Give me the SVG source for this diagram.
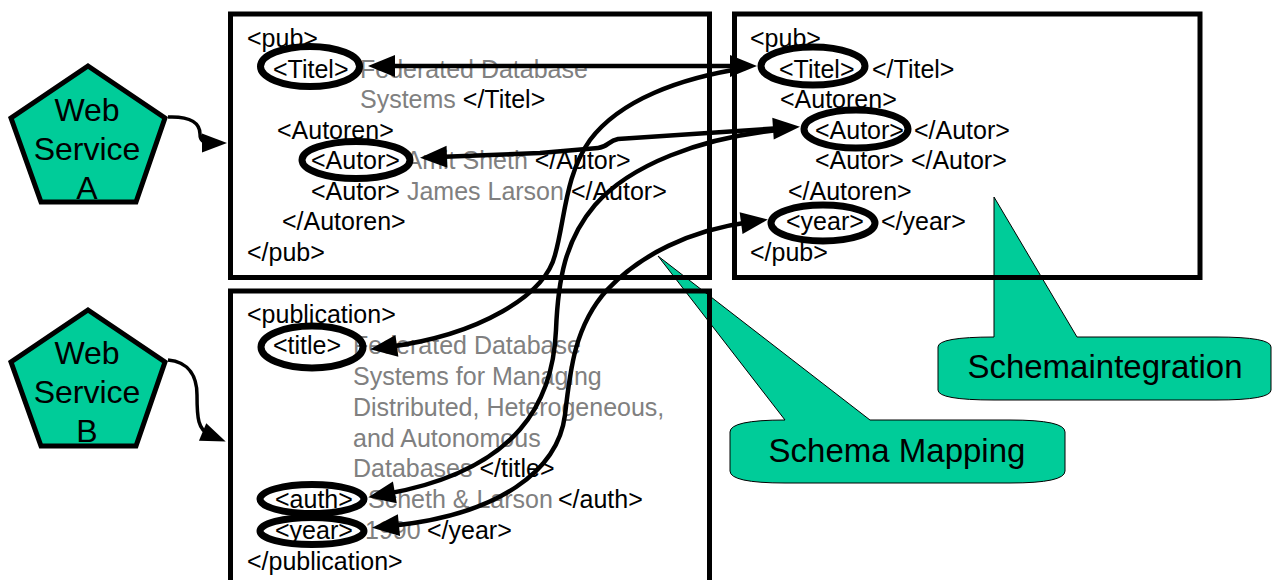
<svg xmlns="http://www.w3.org/2000/svg" width="1273" height="580" viewBox="0 0 1273 580">
<style>
text{font-family:"Liberation Sans",Arial,sans-serif;font-size:25px;fill:#000}
.g{fill:#808080}
.box{fill:none;stroke:#000;stroke-width:5}
.pent{fill:#00CC99;stroke:#000;stroke-width:5;stroke-linejoin:miter}
.pt{font-size:32px;text-anchor:middle}
.ell{fill:none;stroke:#000;stroke-width:7}
.con{fill:none;stroke:#000;stroke-width:4.5}
.thin{fill:none;stroke:#000;stroke-width:3.5}
.call{fill:#00CC99;stroke:#000;stroke-width:1}
.ct{font-size:33px;text-anchor:middle}
</style>
<defs>
<marker id="ah" markerUnits="userSpaceOnUse" markerWidth="28" markerHeight="24" refX="9" refY="11" orient="auto-start-reverse" overflow="visible"><path d="M0,0 L27,11 L0,22 z" fill="#000"/></marker>
<marker id="ah2" markerUnits="userSpaceOnUse" markerWidth="26" markerHeight="22" refX="8" refY="9.5" orient="auto" overflow="visible"><path d="M0,0 L25,9.5 L0,19 z" fill="#000"/></marker>
</defs>

<g id="calloutMapping">
<path class="call" d="M730,432 Q730,420 785,420 L658,256 L870,420 L1010,420 Q1065,420 1065,432 L1065,471 Q1065,483 1010,483 L785,483 Q730,483 730,471 Z"/>
<text class="ct" x="897" y="462">Schema Mapping</text>
</g>

<g id="calloutIntegration">
<path class="call" d="M938,347 Q938,337 994,337 L994,197 L1077,337 L1216,337 Q1271,337 1271,347 L1271,390 Q1271,400 1216,400 L994,400 Q938,400 938,390 Z"/>
<text class="ct" x="1105" y="378">Schemaintegration</text>
</g>

<g id="boxA">
<rect class="box" x="230.5" y="14" width="479" height="263.5"/>
<text x="247" y="47">&lt;pub&gt;</text>
<text x="273" y="78">&lt;Titel&gt;</text>
<text class="g" x="360" y="78">Federated Database</text>
<text x="360" y="108"><tspan class="g">Systems</tspan> &lt;/Titel&gt;</text>
<text x="277" y="139">&lt;Autoren&gt;</text>
<text x="311" y="169">&lt;Autor&gt; <tspan class="g">Amit Sheth</tspan> &lt;/Autor&gt;</text>
<text x="311" y="200">&lt;Autor&gt; <tspan class="g">James Larson</tspan> &lt;/Autor&gt;</text>
<text x="282" y="230">&lt;/Autoren&gt;</text>
<text x="247" y="261">&lt;/pub&gt;</text>
<ellipse class="ell" cx="310" cy="66.5" rx="49.5" ry="20"/>
<ellipse class="ell" cx="356" cy="160" rx="54" ry="18.5"/>
</g>

<g id="boxC">
<rect class="box" x="734.5" y="14" width="465.5" height="263.5"/>
<text x="750" y="47">&lt;pub&gt;</text>
<text x="779" y="78">&lt;Titel&gt;</text>
<text x="872" y="78">&lt;/Titel&gt;</text>
<text x="780" y="108">&lt;Autoren&gt;</text>
<text x="815" y="139">&lt;Autor&gt;</text>
<text x="914" y="139">&lt;/Autor&gt;</text>
<text x="815" y="169">&lt;Autor&gt; &lt;/Autor&gt;</text>
<text x="788" y="200">&lt;/Autoren&gt;</text>
<text x="786" y="230">&lt;year&gt;</text>
<text x="881" y="230">&lt;/year&gt;</text>
<text x="750" y="261">&lt;/pub&gt;</text>
<ellipse class="ell" cx="813" cy="66" rx="52" ry="19"/>
<ellipse class="ell" cx="856" cy="129" rx="52" ry="19"/>
<ellipse class="ell" cx="823" cy="223" rx="52" ry="18"/>
</g>

<g id="boxB">
<rect class="box" x="230.5" y="291" width="479" height="300"/>
<text x="247" y="323">&lt;publication&gt;</text>
<text x="273" y="354">&lt;title&gt;</text>
<text class="g" x="353" y="354">Federated Database</text>
<text class="g" x="353" y="385">Systems for Managing</text>
<text class="g" x="353" y="416">Distributed, Heterogeneous,</text>
<text class="g" x="353" y="447">and Autonomous</text>
<text x="353" y="477"><tspan class="g">Databases</tspan> &lt;/title&gt;</text>
<text x="275" y="508">&lt;auth&gt;</text>
<text class="g" x="368" y="508">Scheth &amp; Larson</text>
<text x="558" y="508">&lt;/auth&gt;</text>
<text x="275" y="539">&lt;year&gt;</text>
<text class="g" x="365" y="539">1990</text>
<text x="427" y="539">&lt;/year&gt;</text>
<text x="247" y="570">&lt;/publication&gt;</text>
<ellipse class="ell" cx="312" cy="347" rx="51" ry="21"/>
<ellipse class="ell" cx="312" cy="499" rx="52" ry="14.5"/>
<ellipse class="ell" cx="312" cy="531" rx="52" ry="13.5"/>
</g>

<g id="wsA">
<polygon class="pent" points="88,66 165,118 136,202 41,202 11,118"/>
<text class="pt" x="87" y="121">Web</text>
<text class="pt" x="87" y="160">Service</text>
<text class="pt" x="87" y="199">A</text>
</g>

<g id="wsB">
<polygon class="pent" points="88,310 165,362 136,446 41,446 11,362"/>
<text class="pt" x="87" y="364">Web</text>
<text class="pt" x="87" y="403">Service</text>
<text class="pt" x="87" y="442">B</text>
</g>

<g id="connectors">
<path class="thin" d="M168,117 C192,116 200,124 200,134 C200,140 203,143 210,143" marker-end="url(#ah2)"/>
<path class="thin" d="M168,360 C190,362 197,378 197,395 C197,418 198,430 210,435" marker-end="url(#ah2)"/>
<path class="con" d="M386,66 L739,66" marker-start="url(#ah)" marker-end="url(#ah)"/>
<path class="con" d="M438,157 L540,153 L598,148 C608,147 608,141 618,139 L782,128" marker-start="url(#ah)" marker-end="url(#ah)"/>
<path class="con" d="M745,68 C680,78 620,100 590,140 C565,175 565,220 555,255 C545,295 480,335 388,347" marker-end="url(#ah)"/>
<path class="con" d="M778,130 C700,138 630,165 595,205 C565,240 558,280 556,330 C553,400 520,470 386,494" marker-end="url(#ah)"/>
<path class="con" d="M750,222 C690,230 640,255 607,290 C575,325 570,370 565,415 C558,470 500,515 390,526" marker-start="url(#ah)" marker-end="url(#ah)"/>
</g>
</svg>
